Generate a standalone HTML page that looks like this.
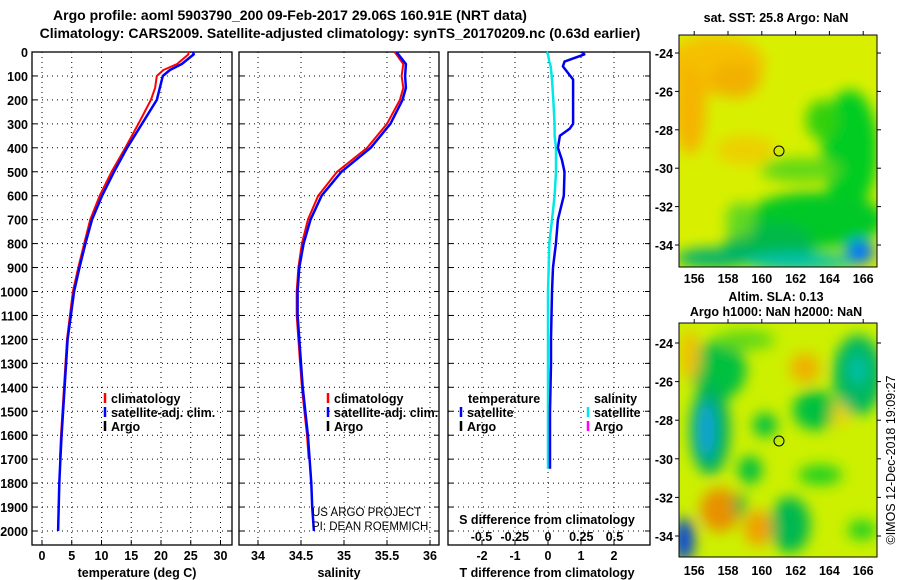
<!DOCTYPE html>
<html><head><meta charset="utf-8">
<style>
body{margin:0;background:#fff;}
svg{display:block;font-family:"Liberation Sans",Arial,sans-serif;}
.b{font-weight:bold;font-size:12.5px;}
.t{font-weight:bold;font-size:14px;}
.grid{stroke:#000;stroke-width:1;stroke-dasharray:1,4;}
</style></head>
<body>
<svg id="chart" width="900" height="580" viewBox="0 0 900 580" xmlns="http://www.w3.org/2000/svg">
<defs>
<filter id="bl" x="-50%" y="-50%" width="200%" height="200%"><feGaussianBlur stdDeviation="7"/></filter>
<clipPath id="c1"><rect x="679" y="35" width="198" height="232"/></clipPath>
<clipPath id="c2"><rect x="679" y="323" width="198" height="234"/></clipPath>
</defs>
<text class="t" x="290" y="20" text-anchor="middle">Argo profile: aoml 5903790_200 09-Feb-2017 29.06S 160.91E (NRT data)</text>
<text class="t" x="340" y="38" text-anchor="middle">Climatology: CARS2009. Satellite-adjusted climatology: synTS_20170209.nc (0.63d earlier)</text>

<g id="p1"></g>
<g id="p2"></g>
<g id="p3"></g>

<!-- map 1 -->
<text class="b" x="776" y="22" text-anchor="middle">sat. SST: 25.8 Argo: NaN</text>
<g clip-path="url(#c1)">
<rect x="679" y="35" width="198" height="232" fill="#d8f000"/>
<g filter="url(#bl)">
<ellipse cx="715" cy="65" rx="50" ry="30" fill="#f5c000"/>
<ellipse cx="690" cy="110" rx="16" ry="45" fill="#f5b400"/>
<ellipse cx="735" cy="80" rx="25" ry="18" fill="#f2b000"/>
<ellipse cx="745" cy="150" rx="30" ry="15" fill="#ecd000"/>
<ellipse cx="850" cy="150" rx="28" ry="60" fill="#00cc20"/>
<ellipse cx="822" cy="120" rx="16" ry="20" fill="#30d010"/>
<ellipse cx="815" cy="220" rx="70" ry="28" fill="#00c828"/>
<ellipse cx="770" cy="245" rx="45" ry="22" fill="#00b848"/>
<ellipse cx="715" cy="258" rx="40" ry="10" fill="#00b070"/>
<ellipse cx="800" cy="262" rx="55" ry="9" fill="#00c0b0"/>
<ellipse cx="860" cy="252" rx="14" ry="12" fill="#0070ff"/>
<ellipse cx="740" cy="220" rx="14" ry="18" fill="#60d820"/>
<ellipse cx="800" cy="170" rx="40" ry="12" fill="#60d818"/>
</g>
</g>
<rect x="679" y="35" width="198" height="232" fill="none" stroke="#000"/>
<circle cx="779" cy="151" r="5" fill="none" stroke="#000"/>

<!-- map 2 -->
<text class="b" x="776" y="301" text-anchor="middle">Altim. SLA: 0.13</text>
<text class="b" x="776" y="316" text-anchor="middle">Argo h1000: NaN h2000: NaN</text>
<g clip-path="url(#c2)">
<rect x="679" y="323" width="198" height="234" fill="#ccf000"/>
<g filter="url(#bl)">
<ellipse cx="718" cy="370" rx="28" ry="30" fill="#00c040"/>
<ellipse cx="710" cy="430" rx="20" ry="45" fill="#00b060"/>
<ellipse cx="706" cy="430" rx="8" ry="28" fill="#10a0e0"/>
<ellipse cx="858" cy="375" rx="25" ry="40" fill="#00b860"/>
<ellipse cx="858" cy="370" rx="8" ry="14" fill="#00c0b0"/>
<ellipse cx="815" cy="410" rx="22" ry="20" fill="#00c040"/>
<ellipse cx="765" cy="425" rx="12" ry="12" fill="#00c040"/>
<ellipse cx="750" cy="470" rx="12" ry="14" fill="#00c040"/>
<ellipse cx="820" cy="475" rx="22" ry="10" fill="#20d020"/>
<ellipse cx="790" cy="525" rx="20" ry="28" fill="#00b850"/>
<ellipse cx="805" cy="368" rx="15" ry="15" fill="#f0b000"/>
<ellipse cx="840" cy="415" rx="8" ry="12" fill="#f0d000"/>
<ellipse cx="720" cy="510" rx="20" ry="22" fill="#e89000"/>
<ellipse cx="758" cy="528" rx="14" ry="18" fill="#f0a000"/>
<ellipse cx="684" cy="540" rx="10" ry="22" fill="#0040e0"/>
<ellipse cx="740" cy="505" rx="6" ry="12" fill="#00b040"/>
<ellipse cx="862" cy="530" rx="14" ry="10" fill="#20d020"/>
<ellipse cx="690" cy="355" rx="10" ry="25" fill="#f0c000"/>
<ellipse cx="745" cy="340" rx="30" ry="10" fill="#60d818"/>
</g>
</g>
<rect x="679" y="323" width="198" height="234" fill="none" stroke="#000"/>
<circle cx="779" cy="441" r="5" fill="none" stroke="#000"/>
<g id="maxes"></g>
<text x="895" y="460" font-size="12.5" text-anchor="middle" transform="rotate(-90 895 460)">©IMOS 12-Dec-2018 19:09:27</text>

<text x="312" y="516" font-size="11.5">US ARGO PROJECT</text>
<text x="312" y="530" font-size="11.5">PI: DEAN ROEMMICH</text>
</svg>
<script>
// profile data (depth in m)
const tDepth=[0,10,50,75,100,150,200,300,400,500,600,700,800,900,1000,1200,1400,1600,1700,1800,2000];
const tClim=[24.6,24.6,22.7,20.4,19.3,19.0,18.3,16.2,14.0,11.7,9.7,8.1,7.1,6.1,5.2,4.2,3.7,3.2,3.0,2.9,2.7];
const tSat=[25.4,25.5,23.5,21.5,20.3,19.8,19.3,16.8,14.3,12.1,10.1,8.4,7.3,6.3,5.4,4.3,3.8,3.3,3.1,2.9,2.7];
const sDepth=[0,50,100,150,200,300,400,500,600,700,800,900,1000,1100,1200,1300,1400,1500,1600,1700,1800,1900,2000];
const sClim=[35.59,35.69,35.67,35.69,35.65,35.50,35.27,34.92,34.70,34.58,34.51,34.47,34.45,34.45,34.47,34.49,34.51,34.54,34.57,34.59,34.61,34.63,34.64];
const sSat=[35.61,35.72,35.71,35.72,35.68,35.54,35.31,34.97,34.74,34.61,34.53,34.48,34.46,34.46,34.48,34.50,34.52,34.55,34.58,34.60,34.62,34.63,34.65];
const dDepth=[0,10,40,60,115,200,300,320,350,400,450,500,600,700,800,900,1000,1200,1300,1500,1740];
const dT=[1.03,1.1,0.5,0.45,0.76,0.76,0.76,0.66,0.36,0.3,0.42,0.5,0.48,0.3,0.24,0.15,0.12,0.09,0.09,0.06,0.06];
const dS=[-0.01,0.0,0.01,0.02,0.03,0.04,0.05,0.05,0.05,0.06,0.06,0.06,0.05,0.03,0.01,0.005,0,0,0,0,0];
const tTicks=[0,5,10,15,20,25,30];
const sTicks=[34,34.5,35,35.5,36];
const sTickLabels=["34","34.5","35","35.5","36"];
const dTTicks=[-2,-1,0,1,2];
const dSTicks=[-0.5,-0.25,0,0.25,0.5];
const dSTickLabels=["-0.5","-0.25","0","0.25","0.5"];
const depthTicks=[0,100,200,300,400,500,600,700,800,900,1000,1100,1200,1300,1400,1500,1600,1700,1800,1900,2000];
const lonTicks=[156,158,160,162,164,166];
const latTicks=[-24,-26,-28,-30,-32,-34];

const NS="http://www.w3.org/2000/svg";
const svg=document.getElementById('chart');
function mk(tag,attrs,parent){const e=document.createElementNS(NS,tag);for(const k in attrs)e.setAttribute(k,attrs[k]);(parent||svg).appendChild(e);return e;}
const yD=d=>52+d*0.2395;
const xT=t=>42+t*5.95;
const xS=s=>258+(s-34)*86;
const xDT=t=>548+t*33;
const xDS=s=>548+s*133;
const TOP=52,BOT=545;

function panel(g,x0,x1,vticks,vx){
  for(const v of vticks){const l=mk('line',{x1:vx(v),x2:vx(v),y1:TOP,y2:BOT,class:'grid'},g);
    
    
    const k=mk('line',{x1:vx(v),x2:vx(v),y1:BOT-5,y2:BOT,stroke:'#000'},g);
    
    }
  for(const d of depthTicks){
    const kl=mk('line',{x1:x0,x2:x0+5,y1:yD(d),y2:yD(d),stroke:'#000'},g);
    
    
    const kr=mk('line',{x1:x1-5,x2:x1,y1:yD(d),y2:yD(d),stroke:'#000'},g);
    
    
    if(d===0)continue;const l=mk('line',{x1:x0,x2:x1,y1:yD(d),y2:yD(d),class:'grid'},g);
    
    }
  const r=mk('rect',{x:x0,y:TOP,width:x1-x0,height:BOT-TOP,fill:'none',stroke:'#000','stroke-width':1.3},g);
  
  
}
function line(g,xs,ds,fx,color,w,name){
  const pts=xs.map((v,i)=>fx(v).toFixed(1)+','+yD(ds[i]).toFixed(1)).join(' ');
  const p=mk('polyline',{points:pts,fill:'none',stroke:color,'stroke-width':w,'stroke-linejoin':'round'},g);
  
  
}
function txt(g,x,y,s,anchor,cls,name,fill){const t=mk('text',{x:x,y:y,'text-anchor':anchor||'middle',class:cls||'b',fill:fill||'#000'},g);t.textContent=s;
  
  return t;}
function legItem(g,x,y,color,label,name){
  const l=mk('line',{x1:x,x2:x,y1:y-10,y2:y,stroke:color,'stroke-width':2.5},g);
  
  
  txt(g,x+6,y,label,'start','b',name);
}

// panel 1
const p1=document.getElementById('p1');
panel(p1,32,232,tTicks,xT);
line(p1,tClim.slice(0,19),tDepth.slice(0,19),xT,'#f00',2,'temperature-climatology-line');
line(p1,tSat,tDepth,xT,'#00f',2.5,'temperature-satellite-line');
for(const d of depthTicks)txt(p1,28,yD(d)+5,String(d),'end','b','depth-tick-label');
tTicks.forEach(v=>txt(p1,xT(v),560,String(v),'middle','b','temperature-tick-label'));
txt(p1,137,577,'temperature (deg C)','middle','b','temperature-axis-title');
legItem(p1,105,403,'#f00','climatology','legend-climatology');
legItem(p1,105,417,'#00f','satellite-adj. clim.','legend-satellite');
legItem(p1,105,431,'#000','Argo','legend-argo');

// panel 2
const p2=document.getElementById('p2');
panel(p2,239,439,sTicks,xS);
line(p2,sClim.slice(0,20),sDepth.slice(0,20),xS,'#f00',2,'salinity-climatology-line');
line(p2,sSat,sDepth,xS,'#00f',2.5,'salinity-satellite-line');
sTicks.forEach((v,i)=>txt(p2,xS(v),560,sTickLabels[i],'middle','b','salinity-tick-label'));
txt(p2,339,577,'salinity','middle','b','salinity-axis-title');
legItem(p2,328,403,'#f00','climatology','legend-climatology');
legItem(p2,328,417,'#00f','satellite-adj. clim.','legend-satellite');
legItem(p2,328,431,'#000','Argo','legend-argo');

// panel 3
const p3=document.getElementById('p3');
panel(p3,448,650,dTTicks,xDT);
line(p3,dS,dDepth,xDS,'#00e8e8',2.5,'salinity-difference-line');
line(p3,dT,dDepth,xDT,'#0000ee',2.5,'temperature-difference-line');
dTTicks.forEach(v=>txt(p3,xDT(v),560,String(v),'middle','b','t-diff-tick-label'));
dSTicks.forEach((v,i)=>txt(p3,xDS(v),541,dSTickLabels[i],'middle','b','s-diff-tick-label'));
txt(p3,547,524,'S difference from climatology','middle','b','s-diff-axis-title');
txt(p3,547,577,'T difference from climatology','middle','b','t-diff-axis-title');
txt(p3,468,403,'temperature','start','b','legend-temperature-header');
legItem(p3,461,417,'#0000ee','satellite','legend-t-satellite');
legItem(p3,461,431,'#000','Argo','legend-t-argo');
txt(p3,594,403,'salinity','start','b','legend-salinity-header');
legItem(p3,588,417,'#00e8e8','satellite','legend-s-satellite');
legItem(p3,588,431,'#ff00ff','Argo','legend-s-argo');

// map axes
const ma=document.getElementById('maxes');
const xL=l=>679+(l-155.1)*16.9;
[[35,267,283],[323,557,575]].forEach(([top,bot,ly])=>{
  lonTicks.forEach(l=>{
    const a=mk('line',{x1:xL(l),x2:xL(l),y1:top-4,y2:top,stroke:'#000'},ma);
    
    
    txt(ma,xL(l),ly,String(l),'middle','b','longitude-tick-label');
  });
});
function latAxis(yTop,yBot){
  latTicks.forEach(la=>{
    const y=yTop+(-24-la)*(yBot-yTop)/10;
    const a=mk('line',{x1:675,x2:679,y1:y,y2:y,stroke:'#000'},ma);
    
    
    const b=mk('line',{x1:877,x2:881,y1:y,y2:y,stroke:'#000'},ma);
    
    
    txt(ma,673,y+5,String(la),'end','b','latitude-tick-label');
  });
}
latAxis(53,245);
latAxis(343,536);
</script>
</body></html>
